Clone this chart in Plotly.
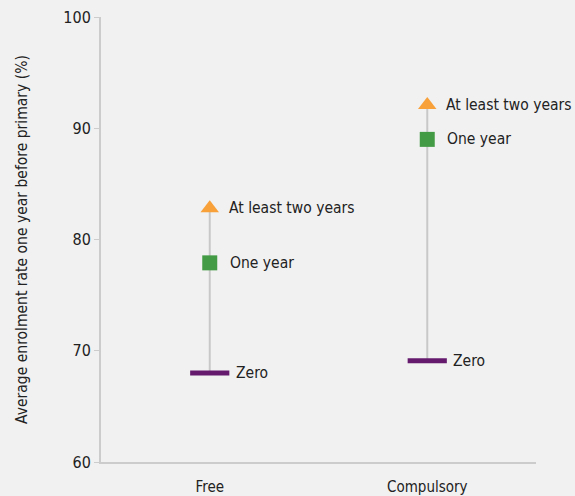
import plotly.graph_objects as go

# Pre-primary policy categories and average enrolment rates (%)
categories = ["Free", "Compulsory"]
zero_years = [68.0, 69.1]
one_year = [77.9, 89.0]
two_plus_years = [82.8, 92.1]

series_labels = ["Zero", "One year", "At least two years"]
y_ticks = [60, 70, 80, 90, 100]

FONT = "Liberation Sans Narrow, DejaVu Sans Condensed, sans-serif"
TEXT = "#222222"
BG = "#f1f1f1"

fig = go.Figure()

# grey connector from the lowest to the highest value in each category
for cat, lo, hi in zip(categories, zero_years, two_plus_years):
    fig.add_trace(go.Scatter(
        x=[cat, cat], y=[lo, hi], mode="lines",
        line=dict(color="#c8c8c8", width=2), hoverinfo="skip", showlegend=False,
    ))

fig.add_trace(go.Scatter(
    x=categories, y=zero_years, mode="markers", name=series_labels[0],
    marker=dict(symbol="line-ew", size=28, line=dict(color="#651a6e", width=5)),
    showlegend=False,
))
fig.add_trace(go.Scatter(
    x=categories, y=one_year, mode="markers", name=series_labels[1],
    marker=dict(symbol="square", size=15, color="#449b45"),
    showlegend=False,
))
fig.add_trace(go.Scatter(
    x=categories, y=two_plus_years, mode="markers", name=series_labels[2],
    marker=dict(symbol="triangle-up", size=16, color="#f8a03a"),
    showlegend=False,
))

# text labels beside each marker
for vals, label, shift in [(zero_years, series_labels[0], 24),
                           (one_year, series_labels[1], 18),
                           (two_plus_years, series_labels[2], 17)]:
    for cat, v in zip(categories, vals):
        fig.add_annotation(
            x=cat, y=v, text=label, showarrow=False,
            xanchor="left", yanchor="middle", xshift=shift,
            font=dict(family=FONT, size=15.5, color=TEXT),
        )

fig.update_layout(
    width=575, height=496,
    margin=dict(l=101, r=39, t=17, b=34),
    paper_bgcolor=BG, plot_bgcolor=BG,
    font=dict(family=FONT, size=16, color=TEXT),
)
fig.update_xaxes(
    type="category", range=[-0.5, 1.5], automargin=False,
    showgrid=False, showline=True, linecolor="#cccccc", linewidth=2,
    ticks="", tickfont=dict(size=15), ticklabelstandoff=10,
)
fig.update_yaxes(
    range=[60, 100], tickvals=y_ticks, automargin=False,
    showgrid=False, zeroline=False, showline=True, linecolor="#cccccc", linewidth=2,
    ticks="outside", ticklen=5, tickcolor="#cccccc",
    tickfont=dict(size=16),
    title=dict(text="Average enrolment rate one year before primary (%)",
               font=dict(size=15.5), standoff=32),
)

fig.write_html("out.html")
